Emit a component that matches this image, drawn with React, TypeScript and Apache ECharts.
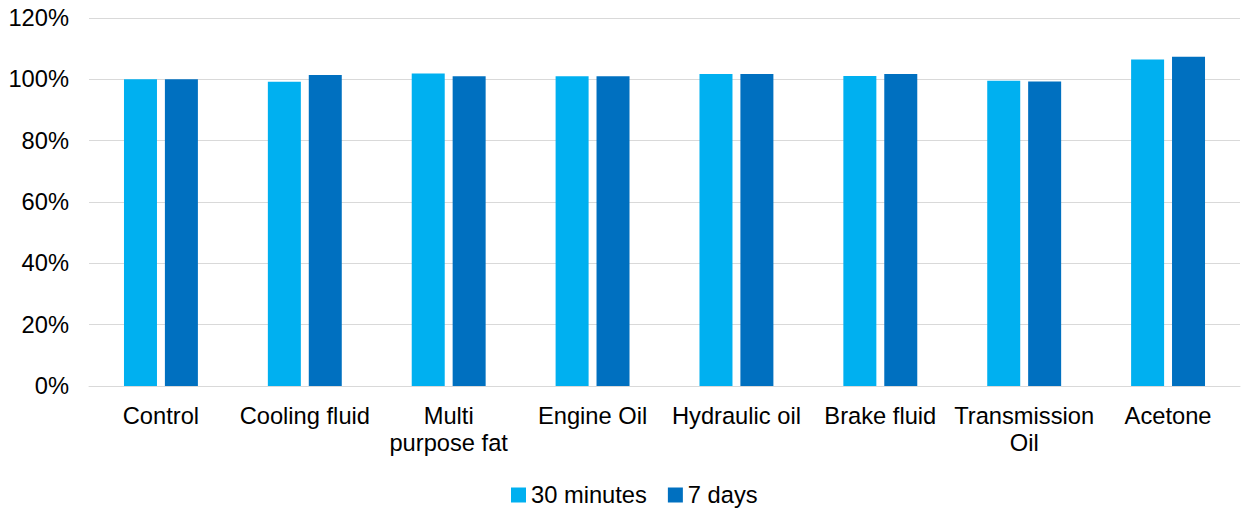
import React, { useEffect, useRef } from "react";
import * as echarts from "echarts";

const categories = [
  "Control",
  "Cooling fluid",
  "Multi\npurpose fat",
  "Engine Oil",
  "Hydraulic oil",
  "Brake fluid",
  "Transmission\nOil",
  "Acetone",
];
const thirtyMinutes = [1.0, 0.992, 1.019, 1.01, 1.017, 1.011, 0.995, 1.065];
const sevenDays = [1.0, 1.014, 1.01, 1.01, 1.017, 1.017, 0.993, 1.074];
const yTicks = [0, 0.2, 0.4, 0.6, 0.8, 1.0, 1.2];

export default function App() {
  const ref = useRef<HTMLDivElement>(null);
  useEffect(() => {
    if (!ref.current) return;
    const chart = echarts.init(ref.current, undefined, { renderer: "svg" });
    const font = "Liberation Sans, Arial, sans-serif";
    chart.setOption({
      animation: false,
      textStyle: { fontFamily: font },
      grid: { left: 89, right: 3, top: 18, bottom: 125, containLabel: false },
      legend: {
        top: 478,
        left: 506,
        itemWidth: 15,
        itemHeight: 15,
        itemGap: 21,
        icon: "rect",
        textStyle: { fontSize: 23.7, color: "#000", fontFamily: font },
        data: ["30 minutes", "7 days"],
      },
      xAxis: {
        type: "category",
        data: categories,
        axisTick: { show: false },
        axisLine: { lineStyle: { color: "#D9D9D9", width: 1 } },
        axisLabel: {
          interval: 0,
          fontSize: 23.7,
          color: "#000",
          margin: 16,
          lineHeight: 27,
          fontFamily: font,
        },
      },
      yAxis: {
        type: "value",
        min: 0,
        max: yTicks[yTicks.length - 1],
        interval: 0.2,
        axisLine: { show: false },
        axisTick: { show: false },
        splitLine: { lineStyle: { color: "#D9D9D9", width: 1 } },
        axisLabel: {
          fontSize: 23.7,
          color: "#000",
          margin: 20,
          fontFamily: font,
          formatter: (v: number) => `${Math.round(v * 100)}%`,
        },
      },
      series: [
        {
          name: "30 minutes",
          type: "bar",
          data: thirtyMinutes,
          barWidth: 33,
          barGap: "24%",
          itemStyle: { color: "#00B0F0" },
        },
        {
          name: "7 days",
          type: "bar",
          data: sevenDays,
          barWidth: 33,
          barGap: "24%",
          itemStyle: { color: "#0070C0" },
        },
      ],
    });
    return () => chart.dispose();
  }, []);
  return (
    <div
      ref={ref}
      style={{ position: "fixed", left: 0, top: 0, width: 1243, height: 511, background: "#fff" }}
    />
  );
}
